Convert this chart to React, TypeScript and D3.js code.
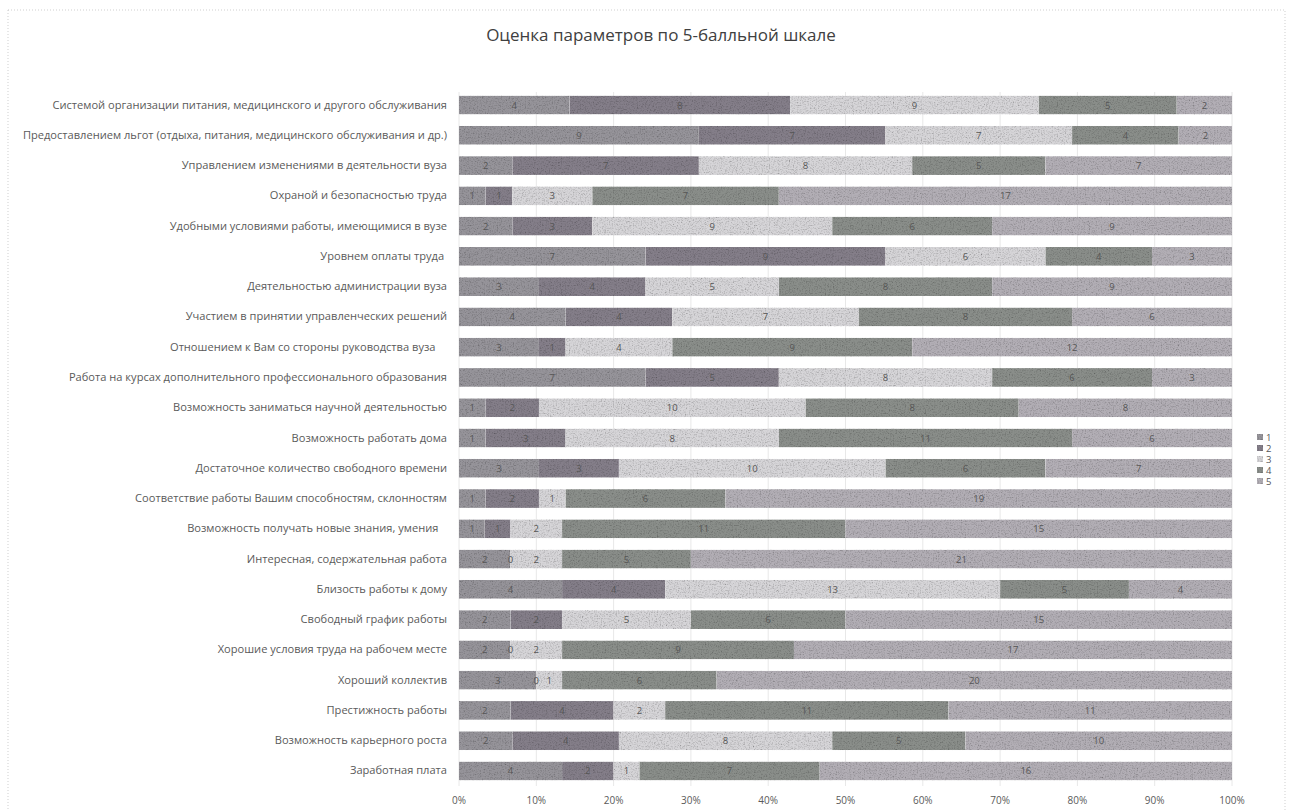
import * as d3 from 'd3'

const W = 1292
const H = 810

const TITLE = 'Оценка параметров по 5-балльной шкале'

const categories = [
  'Системой организации питания, медицинского и другого обслуживания',
  'Предоставлением льгот (отдыха, питания, медицинского обслуживания и др.)',
  'Управлением изменениями в деятельности вуза',
  'Охраной и безопасностью труда',
  'Удобными условиями работы, имеющимися в вузе',
  'Уровнем оплаты труда ',
  'Деятельностью администрации вуза',
  'Участием в принятии управленческих решений',
  'Отношением к Вам со стороны руководства вуза    ',
  'Работа на курсах дополнительного профессионального образования',
  'Возможность заниматься научной деятельностью',
  'Возможность работать дома',
  'Достаточное количество свободного времени',
  'Соответствие работы Вашим способностям, склонностям',
  'Возможность получать новые знания, умения   ',
  'Интересная, содержательная работа',
  'Близость работы к дому',
  'Свободный график работы',
  'Хорошие условия труда на рабочем месте',
  'Хороший коллектив',
  'Престижность работы',
  'Возможность карьерного роста',
  'Заработная плата',
]

// number of answers per score, one array per score (1..5), same order as categories
const score1 = [4, 9, 2, 1, 2, 7, 3, 4, 3, 7, 1, 1, 3, 1, 1, 2, 4, 2, 2, 3, 2, 2, 4]
const score2 = [8, 7, 7, 1, 3, 9, 4, 4, 1, 5, 2, 3, 3, 2, 1, 0, 4, 2, 0, 0, 4, 4, 2]
const score3 = [9, 7, 8, 3, 9, 6, 5, 7, 4, 8, 10, 8, 10, 1, 2, 2, 13, 5, 2, 1, 2, 8, 1]
const score4 = [5, 4, 5, 7, 6, 4, 8, 8, 9, 6, 8, 11, 6, 6, 11, 5, 5, 6, 9, 6, 11, 5, 7]
const score5 = [2, 2, 7, 17, 9, 3, 9, 6, 12, 3, 8, 6, 7, 19, 15, 21, 4, 15, 17, 20, 11, 10, 16]

const seriesNames = ['1', '2', '3', '4', '5']
const seriesColors = ['#96949a', '#847e89', '#d6d5d8', '#8a8e8a', '#b2aeb5']

const xTicks = [0, 0.1, 0.2, 0.3, 0.4, 0.5, 0.6, 0.7, 0.8, 0.9, 1]

const FONT = "'Open Sans', 'Liberation Sans', Arial, sans-serif"

export default function App() {
  const series = [score1, score2, score3, score4, score5]

  const rows = categories.map((name, i) => {
    const vals = series.map((s) => s[i])
    const total = d3.sum(vals)
    let acc = 0
    const segs = vals.map((v, si) => {
      const start = acc / total
      acc += v
      return { si, v, start, end: acc / total }
    })
    return { name, segs }
  })

  const x = d3.scaleLinear().domain([0, 1]).range([459, 1232])
  const y = d3
    .scaleBand<string>()
    .domain(categories)
    .range([89.9, 786.1])
    .paddingInner(0.38)
    .paddingOuter(0.19)
  const bh = y.bandwidth()

  return (
    <div style={{ position: 'absolute', left: 0, top: 0 }}>
      <svg width={W} height={H} style={{ display: 'block', background: '#fff' }}>
        <defs>
          <filter id="grain" x="0" y="0" width="100%" height="100%" colorInterpolationFilters="sRGB">
            <feTurbulence type="fractalNoise" baseFrequency="0.75" numOctaves="2" seed="3" result="noise" />
            <feColorMatrix in="noise" type="saturate" values="0" result="gray" />
            <feComponentTransfer in="gray" result="grain">
              <feFuncR type="linear" slope="1.3" intercept="0.3" />
              <feFuncG type="linear" slope="1.3" intercept="0.3" />
              <feFuncB type="linear" slope="1.3" intercept="0.3" />
            </feComponentTransfer>
            <feBlend in="SourceGraphic" in2="grain" mode="multiply" result="blend" />
            <feComposite in="blend" in2="SourceGraphic" operator="in" />
          </filter>
        </defs>

        <rect x={8} y={10} width={1277} height={810} fill="none" stroke="#cfcfcf" strokeDasharray="1,2" />

        <text x={661} y={41} textAnchor="middle" fontFamily={FONT} fontSize={17} fill="#404040">
          {TITLE}
        </text>

        {xTicks.map((t) => (
          <line key={t} x1={x(t)} x2={x(t)} y1={92} y2={786} stroke="#e8e8e8" strokeWidth={1} />
        ))}

        <g filter="url(#grain)">
          {rows.map((r) =>
            r.segs.map((s) =>
              s.v > 0 ? (
                <rect
                  key={r.name + s.si}
                  x={x(s.start)}
                  y={y(r.name)}
                  width={x(s.end) - x(s.start)}
                  height={bh}
                  fill={seriesColors[s.si]}
                />
              ) : null,
            ),
          )}
        </g>

        {rows.map((r) =>
          r.segs.map((s) => (
            <text
              key={'l' + r.name + s.si}
              x={(x(s.start) + x(s.end)) / 2}
              y={y(r.name)! + bh / 2 + 3.5}
              textAnchor="middle"
              fontFamily={FONT}
              fontSize={9.5}
              fill="#555"
            >
              {s.v}
            </text>
          )),
        )}

        {categories.map((c) => (
          <text
            key={'c' + c}
            x={447}
            y={y(c)! + bh / 2 + 3.5}
            textAnchor="end"
            fontFamily={FONT}
            fontSize={11.1}
            fill="#5a5a5a"
            style={{ whiteSpace: 'pre' }}
          >
            {c}
          </text>
        ))}

        {xTicks.map((t) => (
          <text
            key={'t' + t}
            x={x(t)}
            y={804}
            textAnchor="middle"
            fontFamily={FONT}
            fontSize={10}
            fill="#5a5a5a"
          >
            {d3.format('.0%')(t)}
          </text>
        ))}

        {seriesNames.map((n, i) => (
          <g key={'lg' + n} transform={`translate(1257,${434 + i * 11})`}>
            <rect x={0} y={0} width={6} height={6} fill={seriesColors[i]} filter="url(#grain)" />
            <text x={9} y={6.5} fontFamily={FONT} fontSize={9.5} fill="#555">
              {n}
            </text>
          </g>
        ))}
      </svg>
    </div>
  )
}
